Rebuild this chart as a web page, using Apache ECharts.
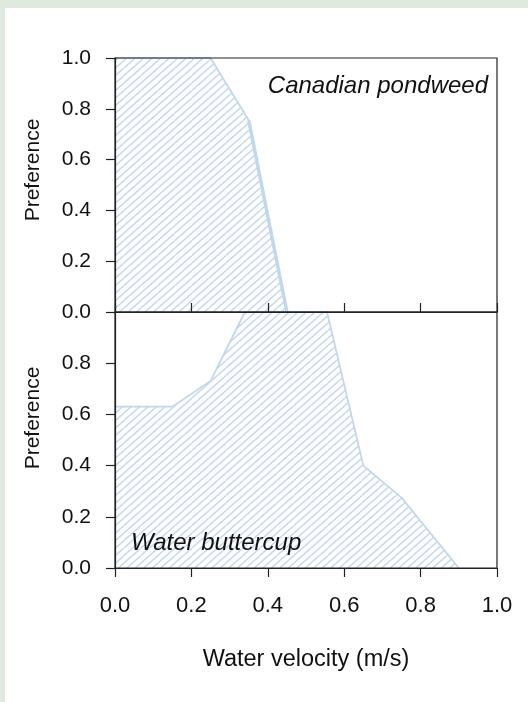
<!DOCTYPE html>
<html>
<head>
<meta charset="utf-8">
<script src="https://cdn.jsdelivr.net/npm/echarts@6/dist/echarts.min.js"></script>
<style>
  html, body { margin: 0; padding: 0; background: #dfe9e0; }
  #chart { position: absolute; left: 5px; top: 8px; width: 523px; height: 694px; background: #fff; }
</style>
</head>
<body>
<div id="chart"></div>
<script>
// Preference curves
var pondweedVelocity = [0, 0.25, 0.35, 0.45];
var pondweedPref = [1.0, 1.0, 0.755, 0.0];
var buttercupVelocity = [0, 0.15, 0.25, 0.34, 0.555, 0.65, 0.75, 0.9];
var buttercupPref = [0.63, 0.63, 0.73, 1.0, 1.0, 0.40, 0.275, 0.0];
var tickLabels = ['0.0', '0.2', '0.4', '0.6', '0.8', '1.0'];

var lineColor = '#c3d7ec';
var axisColor = '#222';
var textColor = '#111';
var font = 'Liberation Sans';

// diagonal hatching tile
function hatch() {
    var c = document.createElement('canvas');
    c.width = 17; c.height = 15;
    var ctx = c.getContext('2d');
    ctx.strokeStyle = lineColor;
    ctx.lineWidth = 1.4;
    for (var k = -2; k <= 4; k++) {
        var off = k * 7.5;
        ctx.beginPath();
        ctx.moveTo(0, off);
        ctx.lineTo(17, off - 15);
        ctx.stroke();
    }
    return c;
}
var pattern = { image: hatch(), repeat: 'repeat' };

function pairs(xs, ys) {
    var out = [];
    for (var i = 0; i < xs.length; i++) out.push([xs[i], ys[i]]);
    return out;
}
function fmt(v) { return tickLabels[Math.round(v * 5)]; }

var chart = echarts.init(document.getElementById('chart'));

var yBase = {
    type: 'value', min: 0, max: 1, interval: 0.2, z: 10,
    splitLine: { show: false },
    axisLine: { show: true, lineStyle: { color: axisColor, width: 1.2 } },
    axisTick: { length: 9, lineStyle: { color: axisColor, width: 1.2 } },
    axisLabel: { margin: 24, fontSize: 21, color: textColor, fontFamily: font, formatter: fmt }
};

function sideLabel(y) {
    return {
        type: 'text', x: 28, y: y, rotation: Math.PI / 2,
        style: { text: 'Preference', fontSize: 21, fontFamily: font, fill: textColor,
                 align: 'center', verticalAlign: 'middle' }
    };
}

var option = {
    animation: false,
    grid: [
        { left: 110, right: 31, top: 50, height: 254, show: true, z: 10, borderColor: axisColor, borderWidth: 1.2 },
        { left: 110, right: 31, top: 304, height: 256, show: true, z: 10, borderColor: axisColor, borderWidth: 1.2 }
    ],
    title: [
        { text: 'Canadian pondweed', right: 35, top: 61,
          textStyle: { fontSize: 24, fontStyle: 'italic', fontWeight: 'normal', color: textColor, fontFamily: font } },
        { text: 'Water buttercup', left: 121, top: 518,
          textStyle: { fontSize: 24, fontStyle: 'italic', fontWeight: 'normal', color: textColor, fontFamily: font } }
    ],
    graphic: [sideLabel(162), sideLabel(410)],
    xAxis: [
        { gridIndex: 0, type: 'value', min: 0, max: 1, interval: 0.2, z: 10,
          splitLine: { show: false },
          axisLine: { lineStyle: { color: axisColor, width: 1.2 } },
          axisTick: { inside: true, length: 9, lineStyle: { color: axisColor, width: 1.2 } },
          axisLabel: { show: false } },
        { gridIndex: 1, type: 'value', min: 0, max: 1, interval: 0.2, z: 10,
          splitLine: { show: false },
          axisLine: { lineStyle: { color: axisColor, width: 1.2 } },
          axisTick: { length: 9, lineStyle: { color: axisColor, width: 1.2 } },
          axisLabel: { margin: 27, fontSize: 22, color: textColor, fontFamily: font, formatter: fmt },
          name: 'Water velocity (m/s)', nameLocation: 'middle', nameGap: 80,
          nameTextStyle: { fontSize: 23.5, color: textColor, fontFamily: font } }
    ],
    yAxis: [
        Object.assign({ gridIndex: 0 }, yBase),
        Object.assign({ gridIndex: 1 }, yBase, {
            axisLabel: Object.assign({}, yBase.axisLabel, { showMaxLabel: false })
        })
    ],
    series: [
        { type: 'line', xAxisIndex: 0, yAxisIndex: 0, showSymbol: false, z: 1,
          data: pairs(pondweedVelocity, pondweedPref),
          lineStyle: { color: lineColor, width: 1.8 },
          areaStyle: { color: pattern, opacity: 1 } },
        // steep falling limb is drawn heavier in the figure
        { type: 'line', xAxisIndex: 0, yAxisIndex: 0, showSymbol: false, z: 1,
          data: pairs(pondweedVelocity.slice(2), pondweedPref.slice(2)),
          lineStyle: { color: lineColor, width: 3.5 } },
        { type: 'line', xAxisIndex: 1, yAxisIndex: 1, showSymbol: false, z: 1,
          data: pairs(buttercupVelocity, buttercupPref),
          lineStyle: { color: lineColor, width: 1.8 },
          areaStyle: { color: pattern, opacity: 1 } }
    ]
};

chart.setOption(option);
</script>
</body>
</html>
